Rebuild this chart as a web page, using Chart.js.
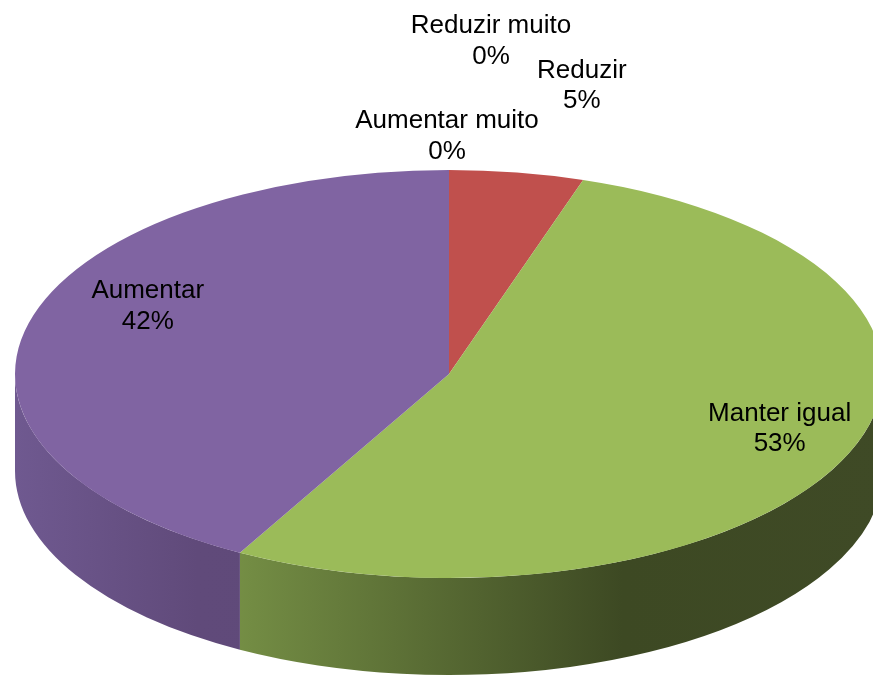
<!DOCTYPE html>
<html>
<head>
<meta charset="utf-8">
<script src="https://cdn.jsdelivr.net/npm/chart.js@4.4.1/dist/chart.umd.min.js"></script>
<style>
    html, body { margin: 0; padding: 0; background: #fff; overflow: hidden; }
    #wrap { width: 873px; height: 677px; overflow: hidden; position: relative; }
    #pie { display: block; }
</style>
</head>
<body>
<div id="wrap"><canvas id="pie" width="900" height="900"></canvas></div>
<script>
"use strict";

// data (percentages)
const categories = ["Reduzir muito", "Reduzir", "Manter igual", "Aumentar", "Aumentar muito"];
const shares = [0, 5, 53, 42, 0];
const percentLabels = ["0%", "5%", "53%", "42%", "0%"];

// look
const topColors = ["#4f81bd", "#c0504d", "#9bbb59", "#8064a2", "#4bacc6"];
const wallStops = [
    [[0, "#3f6492"], [1, "#2c4a70"]],
    [[0, "#9c3f3c"], [1, "#7a2f2d"]],
    [[0, "#7c974a"], [0.21, "#7a9548"], [0.7, "#3d4923"], [1, "#3f4a26"]],
    [[0, "#6f5990"], [0.21, "#604a7a"], [1, "#5c4775"]],
    [[0, "#3a8aa0"], [1, "#2a6b7d"]],
];

// where the flattened pie sits on screen
const TOP_Y = 374;      // centre of the top face
const SQUASH = 204 / 434;
const DEPTH = 97;

// label placement: radial factor along the slice middle, then a nudge
const labelPlace = [
    { f: 1.0, dx: 42, dy: -137 },
    { f: 1.0, dx: 65, dy: -95 },
    { f: 0.8, dx: 12, dy: -18 },
    { f: 0.7, dx: -7, dy: -40 },
    { f: 1.0, dx: -2, dy: -42 },
];

function arcsOf(chart) {
    return chart.getDatasetMeta(0).data;
}

const pie3d = {
    id: "pie3d",
    beforeDatasetsDraw(chart) {
        const ctx = chart.ctx;
        const arcs = arcsOf(chart);
        if (!arcs.length) return;
        const cx = arcs[0].x;
        const rx = arcs[0].outerRadius;
        const ry = rx * SQUASH;

        // side wall, only the front half shows
        arcs.forEach((arc, i) => {
            let s = arc.startAngle, e = arc.endAngle;
            if (e - s <= 0) return;
            [0, 2 * Math.PI, -2 * Math.PI].forEach(shift => {
                const a = Math.max(s + shift, 0);
                const b = Math.min(e + shift, Math.PI);
                if (b <= a) return;
                const grad = ctx.createLinearGradient(cx - rx, 0, cx + rx, 0);
                wallStops[i].forEach(st => grad.addColorStop(st[0], st[1]));
                ctx.save();
                ctx.beginPath();
                ctx.ellipse(cx, TOP_Y, rx, ry, 0, a, b);
                ctx.ellipse(cx, TOP_Y + DEPTH, rx, ry, 0, b, a, true);
                ctx.closePath();
                ctx.fillStyle = grad;
                ctx.fill();
                ctx.restore();
            });
        });

        // squash the top face
        ctx.save();
        ctx.translate(0, TOP_Y);
        ctx.scale(1, SQUASH);
        ctx.translate(0, -arcs[0].y);
    },
    afterDatasetsDraw(chart) {
        chart.ctx.restore();
    },
    afterDraw(chart) {
        const ctx = chart.ctx;
        const arcs = arcsOf(chart);
        const cx = arcs[0].x;
        const rx = arcs[0].outerRadius;
        const ry = rx * SQUASH;
        ctx.save();
        ctx.font = '26px "Liberation Sans", Arial, sans-serif';
        ctx.fillStyle = "#000";
        ctx.textAlign = "center";
        ctx.textBaseline = "alphabetic";
        arcs.forEach((arc, i) => {
            const mid = (arc.startAngle + arc.endAngle) / 2;
            const p = labelPlace[i];
            const x = cx + rx * p.f * Math.cos(mid) + p.dx;
            const y = TOP_Y + ry * p.f * Math.sin(mid) + p.dy;
            ctx.fillText(categories[i], x, y);
            ctx.fillText(percentLabels[i], x, y + 30.5);
        });
        ctx.restore();
    },
};

function Start() {
    const canvas = document.getElementById("pie");
    new Chart(canvas.getContext("2d"), {
        type: "pie",
        data: {
            labels: categories,
            datasets: [{
                data: shares,
                backgroundColor: topColors,
                borderWidth: 0,
            }],
        },
        options: {
            responsive: false,
            animation: false,
            devicePixelRatio: 1,
            layout: { padding: { left: 15, right: 17, top: 0, bottom: 32 } },
            plugins: {
                legend: { display: false },
                tooltip: { enabled: false },
            },
        },
        plugins: [pie3d],
    });
}

window.addEventListener("load", Start);
</script>
</body>
</html>
